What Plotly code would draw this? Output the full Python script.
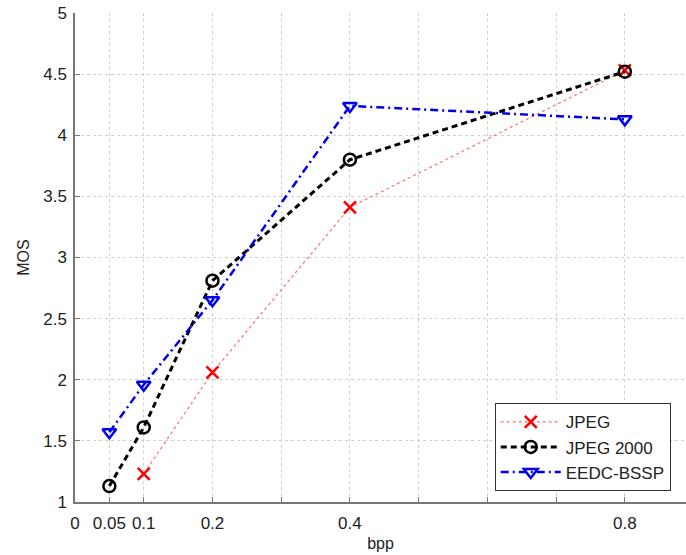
import plotly.graph_objects as go

bpp_jpeg = [0.1, 0.2, 0.4, 0.8]
mos_jpeg = [1.23, 2.06, 3.41, 4.53]

bpp_j2k = [0.05, 0.1, 0.2, 0.4, 0.8]
mos_j2k = [1.13, 1.61, 2.81, 3.80, 4.52]

bpp_eedc = [0.05, 0.1, 0.2, 0.4, 0.8]
mos_eedc = [1.57, 1.96, 2.65, 4.24, 4.13]

x_tickvals = [0, 0.05, 0.1, 0.2, 0.3, 0.4, 0.5, 0.6, 0.7, 0.8]
x_ticktext = ["0", "0.05", "0.1", "0.2", "", "0.4", "", "", "", "0.8"]
y_tickvals = [1, 1.5, 2, 2.5, 3, 3.5, 4, 4.5, 5]
y_ticktext = ["1", "1.5", "2", "2.5", "3", "3.5", "4", "4.5", "5"]

fig = go.Figure()
fig.add_trace(go.Scatter(
    x=bpp_jpeg, y=mos_jpeg, name="JPEG", mode="lines+markers",
    line=dict(color="#ff7070", width=1.2, dash="dot"),
    marker=dict(symbol="x-thin", size=12, color="red", line=dict(color="red", width=2.5)),
))
fig.add_trace(go.Scatter(
    x=bpp_j2k, y=mos_j2k, name="JPEG 2000", mode="lines+markers",
    line=dict(color="black", width=3, dash="6px,4px"),
    marker=dict(symbol="circle-open", size=12, color="black", line=dict(color="black", width=2.5)),
))
fig.add_trace(go.Scatter(
    x=bpp_eedc, y=mos_eedc, name="EEDC-BSSP", mode="lines+markers",
    line=dict(color="#0000ee", width=2.5, dash="8px,4px,2px,4px"),
    marker=dict(symbol="triangle-down-open", size=12, color="#0000ee", line=dict(color="#0000ee", width=2.5)),
))

fam = "Liberation Sans, Arial, sans-serif"
tick_font = dict(family=fam, size=17, color="#222")
title_font = dict(family=fam, size=16, color="#222")

fig.update_layout(
    width=686, height=555,
    margin=dict(l=75, r=0, t=13, b=53),
    paper_bgcolor="white", plot_bgcolor="white",
    font=tick_font,
    showlegend=True,
    legend=dict(
        x=0.687, y=0.022, xanchor="left", yanchor="bottom",
        bgcolor="white", bordercolor="#333", borderwidth=1,
        font=dict(family=fam, size=17, color="#222"),
        tracegroupgap=0, itemwidth=60,
    ),
    xaxis=dict(
        range=[0, 0.889], tickvals=x_tickvals, ticktext=x_ticktext,
        showgrid=True, gridcolor="#d0d0d0", griddash="dot", gridwidth=1,
        showline=True, linecolor="#777", linewidth=1.5,
        ticks="inside", ticklen=5, tickcolor="#777",
        ticklabelstandoff=5,
        tickfont=tick_font,
        zeroline=False,
        title=dict(text="bpp", font=title_font, standoff=6),
    ),
    yaxis=dict(
        range=[1, 5], tickvals=y_tickvals, ticktext=y_ticktext,
        showgrid=True, gridcolor="#d0d0d0", griddash="dot", gridwidth=1,
        showline=True, linecolor="#777", linewidth=1.5,
        ticks="inside", ticklen=5, tickcolor="#777",
        ticklabelstandoff=3,
        tickfont=tick_font,
        zeroline=False,
        title=dict(text="MOS", font=title_font, standoff=10),
    ),
)

fig.write_html("out.html")
